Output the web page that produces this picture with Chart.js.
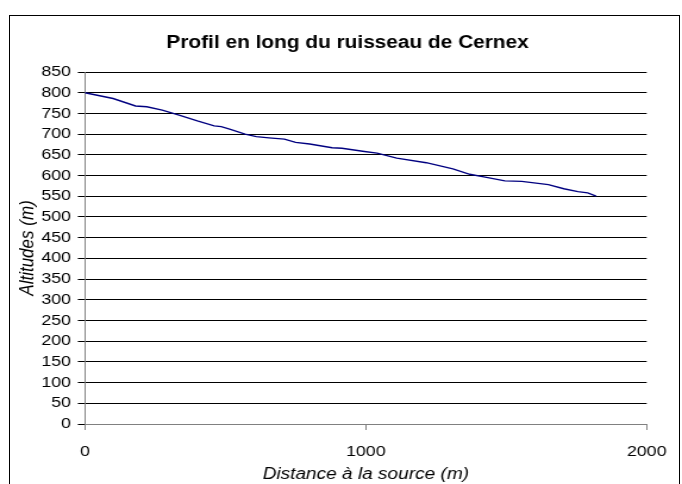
<!DOCTYPE html>
<html>
<head>
<meta charset="utf-8">
<script src="https://cdn.jsdelivr.net/npm/chart.js@4"></script>
<style>
  body { margin: 0; background: #fff; }
  #wrap { position: relative; width: 682px; height: 484px; overflow: hidden; }
  #frame { position: absolute; left: 9px; top: 15px; width: 669px; height: 490px; border: 1px solid #000; pointer-events: none; }
  #profil { position: absolute; left: 0; top: 0; }
</style>
</head>
<body>
<div id="wrap">
  <!-- laid out 573 wide, shown stretched to the full 682 -->
  <canvas id="profil" width="573" height="484" style="width:682px;height:484px"></canvas>
  <div id="frame"></div>
</div>
<script>
// distance from the source (m) and altitude (m) of each surveyed point
var distances = [0, 100, 180, 220, 275, 335, 400, 460, 485, 515, 570, 610, 655, 710, 750, 800, 880, 915, 995, 1040, 1110, 1215, 1310, 1370, 1425, 1495, 1555, 1650, 1705, 1755, 1790, 1820];
var altitudes = [800, 786, 768, 766, 758, 746, 732, 720, 718, 712, 700, 694, 691, 688, 680, 676, 667, 666, 658, 654, 642, 631, 616, 603, 596, 587, 586, 578, 568, 561, 558, 550];

var xTicks = [0, 1000, 2000];
var yMax = 850, yStep = 50;

var points = distances.map(function(d, i) {
    return { x: d, y: altitudes[i] };
});

var police = '"Liberation Sans", Arial, sans-serif';

// left padding pushes the title towards the middle of the plot area;
// the y axis box is shrunk by the same amount (tick labels still fit inside)
var padGauche = 32;

var ctx = document.getElementById('profil').getContext('2d');
var chart = new Chart(ctx, {
    type: 'scatter',
    data: {
    datasets: [{
        label: 'Profil',
        data: points,
        showLine: true,
        borderColor: '#000080',
        borderWidth: 1.4,
        pointRadius: 0,
        tension: 0,
        fill: false
    }]
    },
    options: {
    responsive: false,
    animation: false,
    layout: {
        padding: { left: padGauche, right: 20.9, top: 0, bottom: 0 }
    },
    scales: {
        x: {
        type: 'linear',
        min: xTicks[0],
        max: xTicks[xTicks.length - 1],
        afterBuildTicks: function(scale) {
            scale.ticks = xTicks.map(function(v) { return { value: v }; });
        },
        afterFit: function(scale) { scale.height = 60; },
        grid: {
            drawOnChartArea: false,
            drawTicks: true,
            tickLength: 6,
            tickColor: '#808080'
        },
        border: { color: '#808080', width: 1 },
        ticks: {
            autoSkip: false,
            padding: 13,
            color: '#000',
            maxRotation: 0,
            font: { family: police, size: 15 },
            callback: function(v) { return String(v); }
        },
        title: {
            display: true,
            text: 'Distance à la source (m)',
            color: '#000',
            padding: { top: 0, bottom: 0 },
            font: { family: police, size: 16, style: 'italic' }
        }
        },
        y: {
        min: 0,
        max: yMax,
        afterFit: function(scale) { scale.width = 71.4 - padGauche; },
        grid: {
            color: '#000',
            lineWidth: 1,
            drawTicks: true,
            tickLength: 6,
            tickColor: '#000'
        },
        border: { color: '#808080', width: 1 },
        ticks: {
            autoSkip: false,
            stepSize: yStep,
            padding: 5.7,
            color: '#000',
            font: { family: police, size: 15 },
            callback: function(v) { return String(v); }
        },
        title: {
            display: true,
            text: 'Altitudes (m)',
            color: '#000',
            padding: { top: 23.5 - padGauche - 10.2, bottom: 0 },
            font: { family: police, size: 17, style: 'italic' }
        }
        }
    },
    plugins: {
        legend: { display: false },
        tooltip: { enabled: false },
        title: {
        display: true,
        text: 'Profil en long du ruisseau de Cernex',
        color: '#000',
        padding: { top: 32.7, bottom: 18.3 },
        font: { family: police, size: 17.5, weight: 'bold' }
        }
    }
    }
});
</script>
</body>
</html>
